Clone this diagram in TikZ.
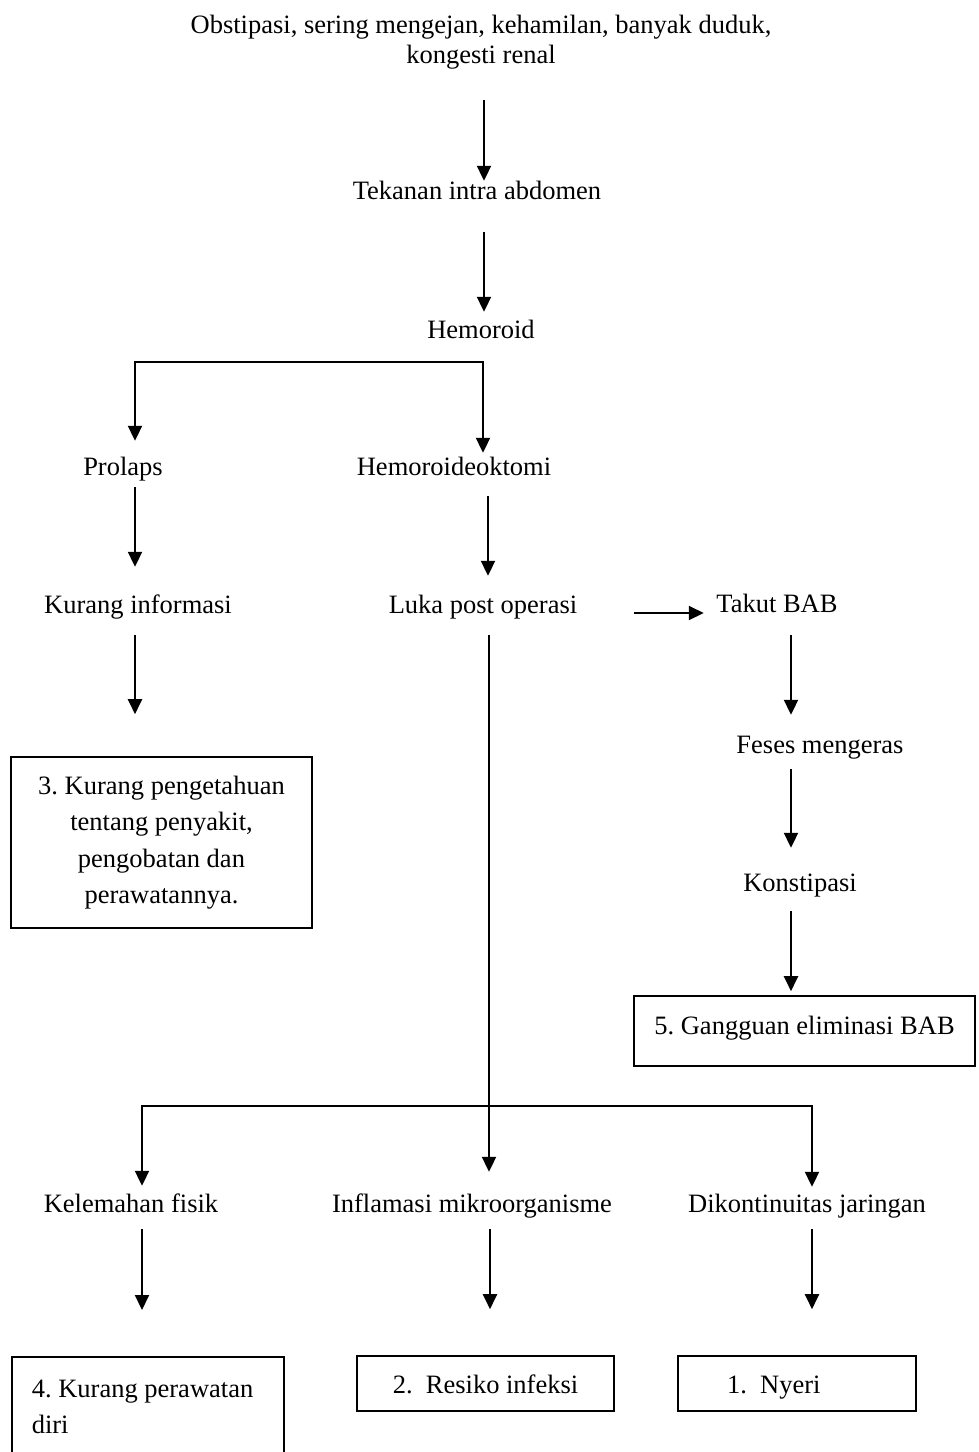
\documentclass[tikz,border=0pt]{standalone}
\usepackage{fontspec}
\setmainfont{Liberation Serif}
\usetikzlibrary{arrows.meta}
\frenchspacing
\begin{document}
\begin{tikzpicture}[x=1pt,y=-1pt,
  every node/.style={font=\fontsize{26.5}{36.5}\selectfont\frenchspacing},
  txt/.style={inner sep=0pt, text height=18pt, text depth=6pt},
  box/.style={draw, line width=1.6pt, inner sep=0pt},
  arr/.style={line width=2pt, -{Triangle[length=15pt,width=14pt]}},
  ln/.style={line width=2pt}]
\useasboundingbox (0,0) rectangle (978,1452);
\fill[white] (0,0) rectangle (978,1452);

% text nodes
\node[inner sep=0pt, align=center, font=\fontsize{26.5}{30}\selectfont] (obs) at (481,42)
  {Obstipasi, sering mengejan, kehamilan, banyak duduk,\\kongesti renal};
\node[txt] (tek) at (477,193) {Tekanan intra abdomen};
\node[txt] (hem) at (481,332) {Hemoroid};
\node[txt] (pro) at (123,469) {Prolaps};
\node[txt] (hde) at (454,469) {Hemoroideoktomi};
\node[txt] (kin) at (138,607) {Kurang informasi};
\node[txt] (luka) at (483,607) {Luka post operasi};
\node[txt] (tbab) at (777,606) {Takut BAB};
\node[txt] (fes) at (820,747) {Feses mengeras};
\node[txt] (kon) at (800,885) {Konstipasi};
\node[txt] (kel) at (131,1206) {Kelemahan fisik};
\node[txt] (inf) at (472,1206) {Inflamasi mikroorganisme};
\node[txt] (dik) at (807,1206) {Dikontinuitas jaringan};

% boxes
\node[box, minimum width=301pt, minimum height=171pt, align=center] (b3) at (161.5,842.5)
  {3. Kurang pengetahuan\\tentang penyakit,\\pengobatan dan\\perawatannya.};
\node[box, minimum width=341pt, minimum height=70pt, text height=18pt, text depth=12pt] (b5) at (804.5,1031)
  {5. Gangguan eliminasi BAB};
\node[box, anchor=north west, minimum width=272pt, minimum height=100pt, align=flush left,
  text width=232pt, inner xsep=20pt] (b4) at (11,1356) {4. Kurang perawatan\\diri};
\node[box, minimum width=257pt, minimum height=55pt, text height=22pt, text depth=2pt] (b2) at (485.5,1383.5) {2.\ \ Resiko infeksi};
\node[box, minimum width=238pt, minimum height=55pt, text height=22pt, text depth=2pt]
  (b1) at (797,1383.5) {\makebox[140pt][l]{1.\ \ Nyeri}};

% columns
\coordinate (cA) at (484,0);
\coordinate (cL) at (135,0);
\coordinate (cH) at (488,0);
\coordinate (cT) at (791,0);
\coordinate (cM) at (489,0);
\coordinate (cK) at (142,0);
\coordinate (cD) at (812,0);
\coordinate (cI) at (490,0);
\coordinate (rowH) at (0,613);
\coordinate (brL) at (135,362);
\coordinate (brR) at (483,362);
\coordinate (bbL) at (142,1106);
\coordinate (bbR) at (812,1106);

% connectors
\draw[arr, shorten <=31pt] (obs.south -| cA) -- (tek.north -| cA);
\draw[arr, shorten <=27pt, shorten >=8pt] (tek.south -| cA) -- (hem.north -| cA);
\draw[ln, {Triangle[length=15pt,width=14pt]}-{Triangle[length=15pt,width=14pt]},
  shorten <=16pt, shorten >=4pt] (pro.north -| brL) -- (brL) -- (brR) -- (hde.north -| brR);
\draw[arr, shorten <=6pt, shorten >=28pt] (pro.south -| cL) -- (kin.north -| cL);
\draw[arr, shorten <=15pt, shorten >=19pt] (hde.south -| cH) -- (luka.north -| cH);
\draw[arr, shorten <=16pt, shorten >=42pt] (kin.south -| cL) -- (b3.north -| cL);
\draw[arr, shorten <=57pt, shorten >=12.5pt] (luka.east |- rowH) -- (tbab.west |- rowH);
\draw[arr, shorten <=17pt, shorten >=20pt] (tbab.south -| cT) -- (fes.north -| cT);
\draw[arr, shorten <=10pt, shorten >=25pt] (fes.south -| cT) -- (kon.north -| cT);
\draw[arr, shorten <=14pt, shorten >=4pt] (kon.south -| cT) -- (b5.north -| cT);
\draw[arr, shorten <=16pt, shorten >=22pt] (luka.south -| cM) -- (inf.north -| cM);
\draw[ln, {Triangle[length=15pt,width=14pt]}-{Triangle[length=15pt,width=14pt]},
  shorten <=8pt, shorten >=7pt] (kel.north -| bbL) -- (bbL) -- (bbR) -- (dik.north -| bbR);
\draw[arr, shorten <=11pt, shorten >=46pt] (kel.south -| cK) -- (b4.north -| cK);
\draw[arr, shorten <=11pt, shorten >=46pt] (inf.south -| cI) -- (b2.north -| cI);
\draw[arr, shorten <=11pt, shorten >=46pt] (dik.south -| cD) -- (b1.north -| cD);
\end{tikzpicture}
\end{document}
